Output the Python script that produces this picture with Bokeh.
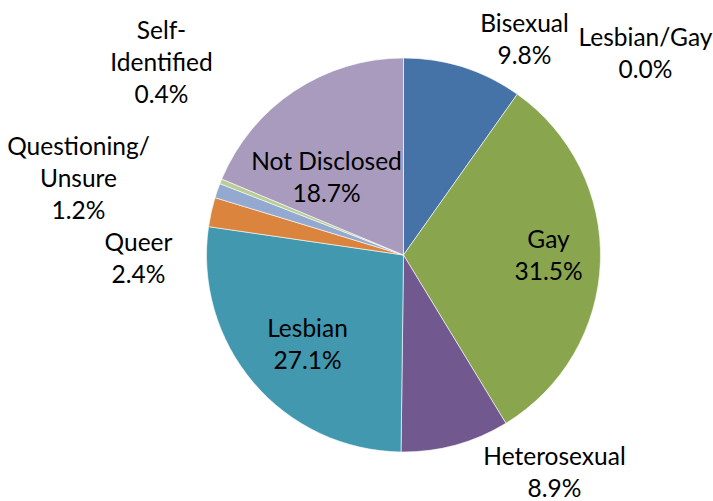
import math
from bokeh.plotting import figure
from bokeh.models import Range1d, ColumnDataSource
from bokeh.core.properties import value
from bokeh.embed import file_html
from bokeh.resources import INLINE

# ---- data ----
categories = ["Bisexual", "Lesbian/Gay", "Gay", "Heterosexual", "Lesbian",
              "Queer", "Questioning/Unsure", "Self-Identified", "Not Disclosed"]
display_names = ["Bisexual", "Lesbian/Gay", "Gay", "Heterosexual", "Lesbian",
                 "Queer", "Questioning/\nUnsure", "Self-\nIdentified", "Not Disclosed"]
percents = [9.8, 0.0, 31.5, 8.9, 27.1, 2.4, 1.2, 0.4, 18.7]
colors = ["#4572A7", "#AA4643", "#89A54E", "#71588F", "#4198AF",
          "#DB843D", "#93A9CF", "#B9CD96", "#A99BBD"]

# ---- layout (image pixel coordinates) ----
W, H = 713, 501
CX, CY, R = 403, 254.5, 197
label_cx = [524, 645, 548, 554, 307, 138, 78, 161, 326]
label_base = [22, 36, 238, 455, 327, 241, 145, 29, 160]
LINE_SP = 32
FONT = "Lato"
FSIZE = "24.5px"

total = sum(percents)
d = dict(cat=[], pct=[], color=[], start=[], end=[], x=[], y=[])
cum = 0.0
for c, v, col in zip(categories, percents, colors):
    a0 = math.pi / 2 - 2 * math.pi * cum / total
    cum += v
    a1 = math.pi / 2 - 2 * math.pi * cum / total
    if v <= 0:
        continue  # zero-size slice: nothing to draw
    d["cat"].append(c); d["pct"].append(v); d["color"].append(col)
    d["start"].append(a1); d["end"].append(a0)
    d["x"].append(CX); d["y"].append(-CY)
src = ColumnDataSource(d)

p = figure(width=W, height=H, output_backend="svg", toolbar_location=None,
           x_range=Range1d(0, W), y_range=Range1d(-H, 0),
           min_border=0, outline_line_color=None)
p.axis.visible = False
p.grid.visible = False
p.background_fill_color = "white"
p.border_fill_color = "white"

p.wedge(x="x", y="y", radius=R, start_angle="start", end_angle="end",
        direction="anticlock", fill_color="color", line_color="white",
        line_width=0.6, source=src)

tx, ty, tt = [], [], []
for name, v, lx, lb in zip(display_names, percents, label_cx, label_base):
    lines = name.split("\n") + [f"{v:.1f}%"]
    for i, ln in enumerate(lines):
        tx.append(lx)
        ty.append(-(lb + i * LINE_SP))
        tt.append(ln)

p.text(x=tx, y=ty, text=tt, text_align="center", text_baseline="alphabetic",
       text_font=value(FONT), text_font_size=FSIZE, text_color="#000000")

open("out.html", "w").write(file_html(p, INLINE))
